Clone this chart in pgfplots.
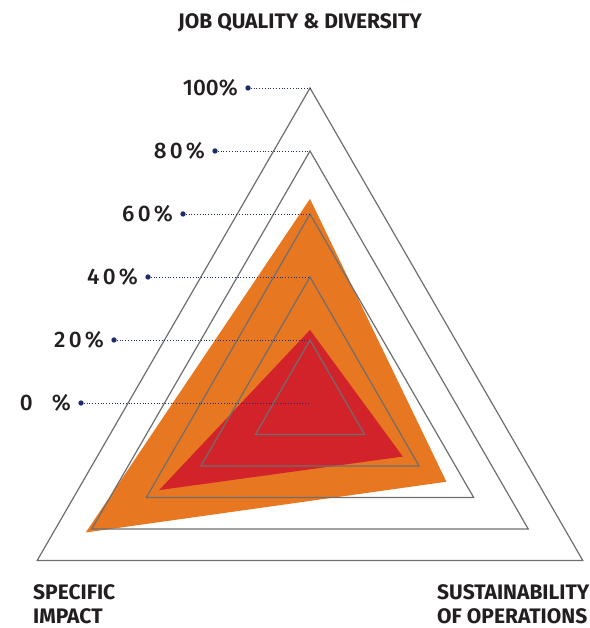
\documentclass[border=0pt]{standalone}
\usepackage{fontspec}
\setmainfont{Fira Sans}
\newfontfamily\numfont{Fira Sans}[UprightFont=* Medium]
\newfontfamily\spacedfont{Fira Sans}[UprightFont=* Medium, LetterSpace=14]
\usepackage{pgfplots}
\usepgfplotslibrary{polar}
\usetikzlibrary{calc}
\pgfplotsset{compat=1.18}
\definecolor{gridgray}{HTML}{6E6E6E}
\definecolor{myorange}{HTML}{E87722}
\definecolor{myred}{HTML}{D2232A}
\definecolor{navy}{HTML}{1F2D6B}
\definecolor{txt}{HTML}{231F20}
\begin{document}
\begin{tikzpicture}
\begin{polaraxis}[hide axis, ymin=0, ymax=100, xmin=0, xmax=360,
  width=630pt, height=630pt, scale only axis, clip=false]
\addplot[fill=myorange, draw=none] coordinates {(90,64.8) (210,82.2) (330,50.0)} --cycle;
\addplot[fill=myred, draw=none] coordinates {(90,23.2) (210,55.3) (330,34.0)} --cycle;
\addplot[gridgray, line width=1.2pt, line join=miter] coordinates {(90,20) (210,20) (330,20)} --cycle;
\addplot[gridgray, line width=1.2pt, line join=miter] coordinates {(90,40) (210,40) (330,40)} --cycle;
\addplot[gridgray, line width=1.2pt, line join=miter] coordinates {(90,60) (210,60) (330,60)} --cycle;
\addplot[gridgray, line width=1.2pt, line join=miter] coordinates {(90,80) (210,80) (330,80)} --cycle;
\addplot[gridgray, line width=1.2pt, line join=miter] coordinates {(90,100) (210,100) (330,100)} --cycle;
\coordinate (c) at (axis cs:0,0);
\end{polaraxis}
\pgfresetboundingbox
\useasboundingbox ($(c)+(-310pt,403pt)$) rectangle ($(c)+(279pt,-225pt)$);
% dotted leader lines and labels
\foreach \lev/\off/\lab in {100/62/{\numfont 100\%}, 80/95/{\spacedfont 80\%}, 60/127/{\spacedfont 60\%}, 40/162/{\spacedfont 40\%}, 20/196/{\spacedfont 20\%}, 0/229/{\numfont 0\hspace{19pt}\%}} {
  \draw[navy, dotted, line width=0.8pt] ($(c)+(-\off pt,3.15*\lev pt)$) -- ($(c)+(0pt,3.15*\lev pt)$);
  \fill[navy] ($(c)+(-\off pt,3.15*\lev pt)$) circle (2.7pt);
  \node[anchor=east, text=txt, font=\fontsize{22.5}{26}\selectfont, inner sep=0pt] at ($(c)+(-\off pt-10pt,3.15*\lev pt)$) {\lab};
}
\node[text=txt, font=\fontsize{21}{25}\selectfont\bfseries, inner sep=0pt] at ($(c)+(-10pt,380pt)$) {JOB QUALITY \& DIVERSITY};
\node[text=txt, font=\fontsize{21}{24}\selectfont\bfseries, inner sep=0pt, anchor=north west, align=left] at ($(c)+(-277pt,-181pt)$) {SPECIFIC\\IMPACT};
\node[text=txt, font=\fontsize{21}{24}\selectfont\bfseries, inner sep=0pt, anchor=north west, align=left] at ($(c)+(127pt,-181pt)$) {SUSTAINABILITY\\OF OPERATIONS};
\end{tikzpicture}
\end{document}
